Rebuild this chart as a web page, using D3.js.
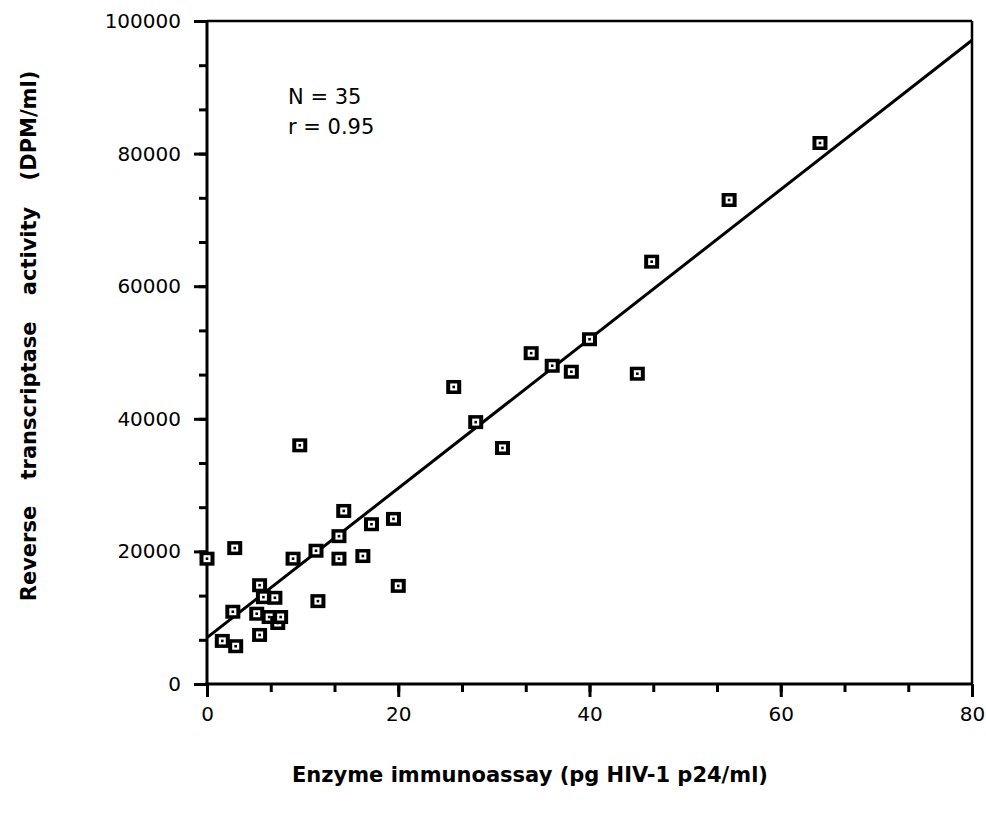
<!DOCTYPE html>
<html>
<head>
<meta charset="UTF-8">
<script src="https://cdn.jsdelivr.net/npm/d3@7"></script>
<style>
  body { margin: 0; background: #fff; }
  text { font-family: "DejaVu Sans", "Liberation Sans", Arial, sans-serif; fill: #000; }
</style>
</head>
<body>
<div id="chart"></div>
<script>
// data
var eia = [0, 1.6, 3.0, 2.7, 2.9, 5.5, 5.9, 5.2, 5.5, 6.5, 7.1, 7.4, 7.7, 9.0, 11.4, 11.6,
           13.8, 13.8, 14.3, 16.3, 17.2, 19.5, 20.0, 9.7, 25.8, 28.1, 30.9, 33.9, 36.1, 38.1,
           40.0, 45.0, 46.5, 54.6, 64.1];
var rt = [18900, 6500, 5700, 10900, 20500, 14900, 13100, 10600, 7400, 10100, 13000, 9200, 10100,
          18900, 20100, 12500, 22300, 18900, 26100, 19300, 24100, 24900, 14800, 36000, 44800,
          39500, 35600, 49900, 48000, 47100, 52000, 46800, 63700, 73000, 81600];
var fitX = [0, 80];
var fitY = [7000, 97100];
var xTicks = [0, 20, 40, 60, 80];
var yTicks = [0, 20000, 40000, 60000, 80000, 100000];
var notes = ["N = 35", "r = 0.95"];

var width = 986, height = 814;
var pLeft = 207, pRight = 972, pTop = 21, pBottom = 684;

var svg = d3.select("#chart").append("svg")
  .attr("width", width)
  .attr("height", height);

var x = d3.scaleLinear().domain([0, 80]).range([pLeft, pRight]);
var y = d3.scaleLinear().domain([0, 100000]).range([pBottom, pTop]);

// frame top and right
svg.append("line").attr("x1", pLeft).attr("x2", pRight).attr("y1", pTop).attr("y2", pTop)
  .attr("stroke", "#000").attr("stroke-width", 2.5);
svg.append("line").attr("x1", pRight).attr("x2", pRight).attr("y1", pTop).attr("y2", pBottom)
  .attr("stroke", "#000").attr("stroke-width", 2.5);

// minor ticks: thirds of each major step
var xMinor = d3.range(0, 80.01, 20 / 3);
var yMinor = d3.range(0, 100001, 20000 / 3);

var xAxisG = svg.append("g").attr("transform", "translate(0," + pBottom + ")");
xAxisG.call(d3.axisBottom(x).tickValues(xMinor).tickSize(8).tickFormat(""));
xAxisG.append("g").call(d3.axisBottom(x).tickValues(xTicks).tickSize(13).tickPadding(10).tickFormat(d3.format("d")));

var yAxisG = svg.append("g").attr("transform", "translate(" + pLeft + ",0)");
yAxisG.call(d3.axisLeft(y).tickValues(yMinor).tickSize(8).tickFormat(""));
yAxisG.append("g").call(d3.axisLeft(y).tickValues(yTicks).tickSize(13).tickPadding(13).tickFormat(d3.format("d")));

svg.selectAll(".domain").remove();
svg.selectAll(".tick line").attr("stroke", "#000").attr("stroke-width", 3);
svg.selectAll(".tick text").style("font-size", "20px").style("font-family", "'DejaVu Sans', sans-serif");

// axis lines
svg.append("line").attr("x1", pLeft - 1.5).attr("x2", pRight + 1).attr("y1", pBottom).attr("y2", pBottom)
  .attr("stroke", "#000").attr("stroke-width", 3);
svg.append("line").attr("x1", pLeft).attr("x2", pLeft).attr("y1", pTop - 1).attr("y2", pBottom + 1.5)
  .attr("stroke", "#000").attr("stroke-width", 3);

// regression line
svg.append("line")
  .attr("x1", x(fitX[0])).attr("y1", y(fitY[0]))
  .attr("x2", x(fitX[1])).attr("y2", y(fitY[1]))
  .attr("stroke", "#000").attr("stroke-width", 3);

// markers: black square, white centre, black dot
var pts = eia.map(function(d, i) { return { x: d, y: rt[i] }; });
var mk = svg.selectAll("g.pt").data(pts).enter().append("g")
  .attr("class", "pt")
  .attr("transform", function(d) { return "translate(" + x(d.x) + "," + y(d.y) + ")"; });
mk.append("rect").attr("x", -7.5).attr("y", -7).attr("width", 15).attr("height", 14).attr("fill", "#000");
mk.append("rect").attr("x", -3.5).attr("y", -3.5).attr("width", 7).attr("height", 7).attr("fill", "#fff");
mk.append("rect").attr("x", -1.3).attr("y", -1.3).attr("width", 2.6).attr("height", 2.6).attr("fill", "#000");

// annotation
svg.selectAll("text.note").data(notes).enter().append("text")
  .attr("class", "note")
  .attr("x", 288)
  .attr("y", function(d, i) { return 104 + i * 30; })
  .style("font-size", "21px")
  .text(function(d) { return d; });

// axis titles
svg.append("text")
  .attr("x", 530).attr("y", 782)
  .attr("text-anchor", "middle")
  .style("font-size", "21px").style("font-weight", "bold")
  .text("Enzyme immunoassay (pg HIV-1 p24/ml)");

svg.append("text")
  .attr("transform", "translate(36,336) rotate(-90)")
  .attr("text-anchor", "middle")
  .style("font-size", "21px").style("font-weight", "bold")
  .style("word-spacing", "19px")
  .text("Reverse transcriptase activity (DPM/ml)");
</script>
</body>
</html>
